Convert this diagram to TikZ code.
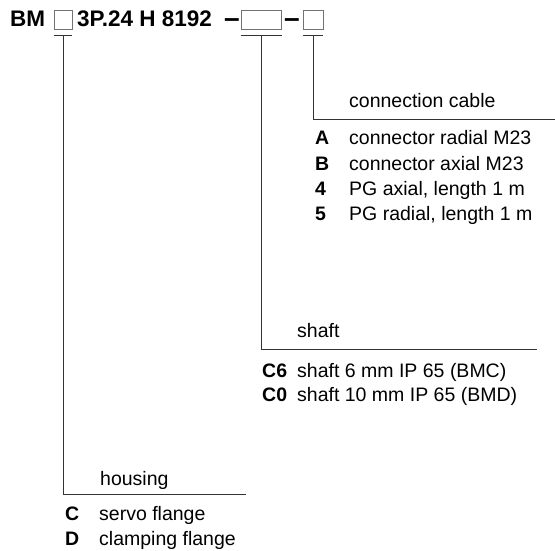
\documentclass[tikz,border=0pt]{standalone}
\usepackage{fontspec}
\setmainfont{Liberation Sans}
\usetikzlibrary{calc}

\begin{document}
\begin{tikzpicture}[x=1pt, y=-1pt,
  codebox/.style={draw=black!55, line width=0.8pt, minimum height=19pt, inner sep=0pt},
  lead/.style={black!80, line width=0.9pt},
  head/.style={anchor=base west, inner sep=0pt, font=\fontsize{22.5}{22.5}\selectfont\bfseries},
  headdash/.style={anchor=base, inner sep=0pt, font=\fontsize{28}{28}\selectfont\bfseries},
  txt/.style={anchor=base west, inner sep=0pt, font=\fontsize{19.5}{19.5}\selectfont},
  key/.style={anchor=base west, inner sep=0pt, font=\fontsize{19.5}{19.5}\selectfont\bfseries}]

\useasboundingbox (0,0) rectangle (555,551);

% Typenschlüssel
\node[head] (bm) at (10,27) {BM};
\node[codebox, minimum width=18pt] (housebox) at (63,19.5) {};
\node[head] (type) at (77,27) {3P.24 H 8192};
\node[headdash] (dashA) at (232,28) {–};
\node[codebox, minimum width=40pt] (shaftbox) at (261.5,19.5) {};
\node[headdash] (dashB) at (292,28) {–};
\node[codebox, minimum width=20pt] (cablebox) at (313,19.5) {};

% Enden der Führungslinien
\coordinate (cableend) at (555,119);
\coordinate (shaftend) at (537,349);
\coordinate (houseend) at (246,494);

% Anschlusskabel
\draw[lead] ([yshift=-6.5pt]cablebox.south west) -- ([yshift=-6.5pt]cablebox.south east);
\draw[lead] ([yshift=-6.5pt]cablebox.south) |- (cableend);
\node[txt] (cablehead) at (349,107) {connection cable};
\node[key] (keyA) at (315,145) {A};
\node[txt] (itemA) at (349,145) {connector radial M23};
\node[key] (keyB) at (315,170) {B};
\node[txt] (itemB) at (349,170) {connector axial M23};
\node[key] (key4) at (315,195) {4};
\node[txt] (item4) at (349,195) {PG axial, length 1 m};
\node[key] (key5) at (315,220) {5};
\node[txt] (item5) at (349,220) {PG radial, length 1 m};

% Welle
\draw[lead] ([yshift=-6.5pt]shaftbox.south west) -- ([yshift=-6.5pt]shaftbox.south east);
\draw[lead] ([yshift=-6.5pt]shaftbox.south) |- (shaftend);
\node[txt] (shafthead) at (297,337) {shaft};
\node[key] (keyC6) at (262,377) {C6};
\node[txt] (itemC6) at (297,377) {shaft 6 mm IP 65 (BMC)};
\node[key] (keyC0) at (262,401) {C0};
\node[txt] (itemC0) at (297,401) {shaft 10 mm IP 65 (BMD)};

% Gehäuse
\draw[lead] ([yshift=-6.5pt]housebox.south west) -- ([yshift=-6.5pt]housebox.south east);
\draw[lead] ([yshift=-6.5pt]housebox.south) |- (houseend);
\node[txt] (househead) at (100,485) {housing};
\node[key] (keyC) at (65,520) {C};
\node[txt] (itemC) at (99,520) {servo flange};
\node[key] (keyD) at (65,545) {D};
\node[txt] (itemD) at (99,545) {clamping flange};

\end{tikzpicture}
\end{document}
